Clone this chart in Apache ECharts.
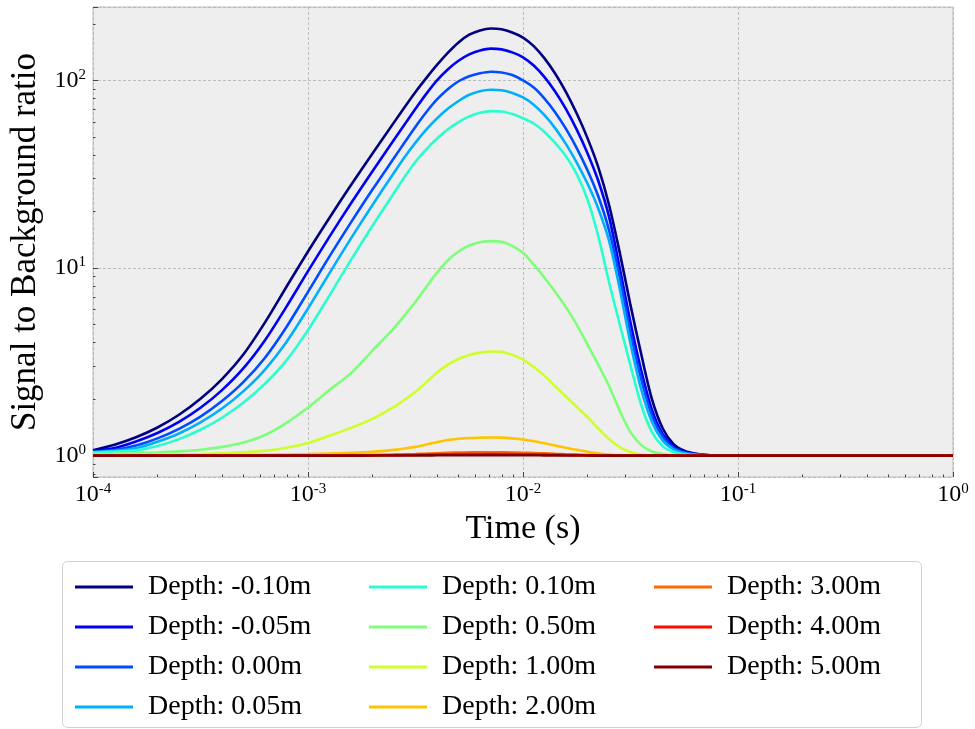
<!DOCTYPE html>
<html><head><meta charset="utf-8">
<script src="https://cdn.jsdelivr.net/npm/echarts@6/dist/echarts.min.js"></script>
<style>html,body{margin:0;padding:0;background:#fff}#c{width:975px;height:729px}</style>
</head><body><div id="c"></div>
<script>
// ---------------- data ----------------
const times = [1e-4,1.259e-4,1.585e-4,1.995e-4,2.512e-4,3.162e-4,3.981e-4,5.012e-4,6.310e-4,7.943e-4,1e-3,1.259e-3,1.585e-3,1.995e-3,2.512e-3,
  2.818e-3,3.162e-3,3.548e-3,3.981e-3,4.467e-3,5.012e-3,5.623e-3,6.310e-3,7.079e-3,7.943e-3,8.913e-3,1e-2,1.122e-2,1.259e-2,1.413e-2,1.585e-2,
  1.778e-2,1.995e-2,2.239e-2,2.512e-2,2.818e-2,3.162e-2,3.548e-2,3.981e-2,4.467e-2,5.012e-2,5.623e-2,6.310e-2,7.079e-2,7.943e-2,8.913e-2,0.1,0.3162,1];

const depthLabels = ['Depth: -0.10m','Depth: -0.05m','Depth: 0.00m','Depth: 0.05m','Depth: 0.10m','Depth: 0.50m','Depth: 1.00m','Depth: 2.00m','Depth: 3.00m','Depth: 4.00m','Depth: 5.00m'];

const depthM010 = [1.067,1.143,1.253,1.413,1.652,2.009,2.559,3.467,5.129,7.943,12.25,18.54,27.67,40.74,59.70,
  72.11,86.70,102.8,120.8,140.0,159.2,175.0,184.5,188.8,187.1,179.9,169.0,152.1,130.9,108.4,86.50,
  66.53,49.20,34.44,21.73,12.08,6.339,3.467,1.995,1.396,1.153,1.062,1.026,1.009,1.002,1,1,1,1];
const depthM005 = [1.057,1.099,1.191,1.321,1.514,1.799,2.234,2.924,4.121,6.223,9.616,14.69,22.13,32.81,48.19,
  58.34,70.47,84.72,100.0,114.3,127.1,137.4,144.2,147.6,146.2,140.9,132.7,119.9,104.0,86.90,70.15,
  54.58,40.93,29.17,18.79,10.0,5.129,2.844,1.754,1.303,1.119,1.049,1.020,1.007,1.002,1,1,1,1];
const depth000 = [1.050,1.072,1.132,1.236,1.390,1.614,1.954,2.472,3.327,4.853,7.464,11.53,17.50,26.18,38.55,
  46.77,56.62,67.61,79.07,89.54,98.86,105.2,109.1,111.2,110.2,106.7,100,91.62,79.98,67.45,55.08,
  43.55,33.19,24.10,15.92,8.913,4.519,2.547,1.633,1.256,1.102,1.040,1.016,1.006,1.001,1,1,1,1];
const depth005 = [1.045,1.062,1.096,1.186,1.312,1.503,1.782,2.208,2.877,4.036,6.081,9.397,14.39,21.68,32.21,
  39.08,46.56,54.58,62.66,70.47,77.62,83.75,87.50,89.13,88.51,85.70,81.10,74.13,65.16,55.46,45.71,
  36.48,28.18,20.75,14.00,7.762,3.963,2.254,1.510,1.202,1.081,1.033,1.013,1.005,1.001,1,1,1,1];
const depth010 = [1.040,1.052,1.067,1.125,1.225,1.374,1.592,1.919,2.415,3.221,4.667,7.145,11.04,16.79,25.12,
  30.62,36.81,42.85,48.98,54.70,59.84,64.27,67.14,68.55,68.23,66.07,62.81,58.88,53.09,46.24,39.36,
  31.62,23.17,14.79,8.414,5.012,3.020,1.862,1.334,1.122,1.045,1.016,1.006,1.002,1,1,1,1,1];
const depth050 = [1.019,1.023,1.030,1.040,1.054,1.076,1.114,1.175,1.288,1.496,1.807,2.239,2.754,3.631,4.786,
  5.598,6.607,7.907,9.441,10.96,12.25,13.18,13.71,13.90,13.80,13.09,12.05,10.42,8.872,7.447,6.166,
  4.989,3.908,3.055,2.355,1.738,1.334,1.138,1.052,1.019,1.005,1.001,1,1,1,1,1,1,1];
const depth100 = [1.005,1.007,1.008,1.012,1.016,1.021,1.030,1.045,1.062,1.102,1.169,1.276,1.406,1.570,1.820,
  1.986,2.188,2.455,2.773,3.055,3.273,3.443,3.540,3.589,3.573,3.443,3.251,2.965,2.661,2.344,2.065,
  1.820,1.603,1.396,1.225,1.109,1.042,1.014,1.003,1,1,1,1,1,1,1,1,1,1];
const depth200 = [1.001,1.0014,1.002,1.003,1.0046,1.0058,1.0069,1.0092,1.0116,1.015,1.020,1.027,1.035,1.049,1.074,
  1.091,1.114,1.146,1.180,1.211,1.230,1.242,1.247,1.250,1.247,1.236,1.219,1.194,1.164,1.132,1.102,
  1.074,1.050,1.030,1.015,1.006,1.002,1,1,1,1,1,1,1,1,1,1,1,1];
const depth300 = [1,1,1,1.0005,1.001,1.001,1.0012,1.0016,1.002,1.0026,1.0034,1.0046,1.006,1.0083,1.0126,
  1.0155,1.0194,1.0248,1.0306,1.0359,1.039,1.041,1.042,1.0425,1.042,1.040,1.037,1.033,1.028,1.0224,1.0173,
  1.0126,1.0085,1.005,1.0026,1.001,1.0003,1,1,1,1,1,1,1,1,1,1,1,1];
const depth400 = [1,1,1,1,1,1,1,1.001,1.001,1.0012,1.0016,1.0022,1.0028,1.0039,1.006,
  1.0073,1.0091,1.0117,1.0144,1.0169,1.0184,1.0194,1.0198,1.02,1.0198,1.0189,1.0175,1.0155,1.0131,1.0106,1.0082,
  1.006,1.004,1.0024,1.0012,1.0005,1.0002,1,1,1,1,1,1,1,1,1,1,1,1];
const depth500 = [1,1,1,1,1,1,1,1,1,1,1.0005,1.0006,1.0008,1.0012,1.0018,
  1.0022,1.0027,1.0035,1.0043,1.0051,1.0055,1.0058,1.0059,1.006,1.0059,1.0057,1.0053,1.0047,1.0039,1.0032,1.0024,
  1.0018,1.0012,1.0007,1.0004,1.0001,1,1,1,1,1,1,1,1,1,1,1,1,1];

const seriesValues = [depthM010,depthM005,depth000,depth005,depth010,depth050,depth100,depth200,depth300,depth400,depth500];

const xMinorTicks = [2e-4,3e-4,4e-4,5e-4,6e-4,7e-4,8e-4,9e-4,2e-3,3e-3,4e-3,5e-3,6e-3,7e-3,8e-3,9e-3,2e-2,3e-2,4e-2,5e-2,6e-2,7e-2,8e-2,9e-2,0.2,0.3,0.4,0.5,0.6,0.7,0.8,0.9];
const yMinorTicks = [0.8,0.9,2,3,4,5,6,7,8,9,20,30,40,50,60,70,80,90,200];
const xRange = [1e-4, 1];
const yRange = [0.7696, 245.9];

// ---------------- style ----------------
const colors = ['#000080','#0000f3','#004cff','#00b0ff','#29ffce','#7dff7a','#ceff29','#ffc400','#ff6800','#ff0900','#800000'];
const FONT = 'Liberation Serif';
const rich = {
  b: {fontFamily: FONT, fontSize: 24, lineHeight: 26, color: '#000'},
  s: {fontFamily: FONT, fontSize: 15, lineHeight: 15, verticalAlign: 'top', color: '#000'}
};
function powLabel(v) {
  const e = Math.log10(v);
  if (Math.abs(e - Math.round(e)) > 1e-6) return '';
  return '{b|10}{s|' + Math.round(e) + '}';
}
const tickStyle = {color: '#444', width: 1};

const chart = echarts.init(document.getElementById('c'), null, {renderer: 'canvas'});
const legendCols = [[0,1,2,3],[4,5,6,7],[8,9,10]];
const legendLeft = [70, 364, 649];

chart.setOption({
  animation: false,
  grid: {left: 93, right: 22, top: 7, bottom: 252, show: true, backgroundColor: '#eeeeee', borderColor: '#bcbcbc', borderWidth: 1},
  graphic: [{type: 'rect', silent: true, z: 0, shape: {x: 62.5, y: 561.5, width: 859, height: 166, r: 5}, style: {fill: '#ffffff', stroke: '#d0d0d0', lineWidth: 1}}],
  legend: legendCols.map((idx, i) => ({
    orient: 'vertical', left: legendLeft[i], top: 568,
    data: idx.map(k => depthLabels[k]),
    icon: 'rect', itemWidth: 58, itemHeight: 3, itemGap: 12,
    selectedMode: false, z: 5,
    textStyle: {fontFamily: FONT, fontSize: 28, lineHeight: 28, color: '#000', padding: [0, 0, 0, 10]}
  })),
  xAxis: [
    {type: 'log', logBase: 10, min: xRange[0], max: xRange[1], position: 'bottom',
     name: 'Time (s)', nameLocation: 'middle', nameGap: 30,
     nameTextStyle: {fontFamily: FONT, fontSize: 34, color: '#000'},
     axisLine: {show: false},
     axisTick: {show: true, inside: true, length: 5, lineStyle: tickStyle},
     axisLabel: {formatter: powLabel, rich: rich, margin: 5, showMinLabel: true, showMaxLabel: true},
     splitLine: {show: true, lineStyle: {color: '#b0b0b0', type: [3, 2], width: 0.8}}},
    {type: 'log', logBase: 10, min: xRange[0], max: xRange[1], position: 'bottom',
     axisLine: {show: false}, axisLabel: {show: false}, splitLine: {show: false},
     axisTick: {show: true, inside: true, length: 2.5, customValues: xMinorTicks, lineStyle: tickStyle}}
  ],
  yAxis: [
    {type: 'log', logBase: 10, min: yRange[0], max: yRange[1], position: 'left',
     name: 'Signal to Background ratio', nameLocation: 'middle', nameGap: 48,
     nameTextStyle: {fontFamily: FONT, fontSize: 35, color: '#000'},
     axisLine: {show: false},
     axisTick: {show: true, inside: true, length: 5, lineStyle: tickStyle},
     axisLabel: {formatter: powLabel, rich: rich, margin: 7},
     splitLine: {show: true, lineStyle: {color: '#b0b0b0', type: [3, 2], width: 0.8}}},
    {type: 'log', logBase: 10, min: yRange[0], max: yRange[1], position: 'left',
     axisLine: {show: false}, axisLabel: {show: false}, splitLine: {show: false},
     axisTick: {show: true, inside: true, length: 2.5, customValues: yMinorTicks, lineStyle: tickStyle}}
  ],
  series: seriesValues.map((vals, i) => ({
    name: depthLabels[i], type: 'line', xAxisIndex: 0, yAxisIndex: 0,
    data: times.map((t, j) => [t, vals[j]]),
    showSymbol: false, symbol: 'none', smooth: 0.3,
    color: colors[i], lineStyle: {color: colors[i], width: 2.6},
    emphasis: {disabled: true}
  }))
});
</script>
</body></html>
